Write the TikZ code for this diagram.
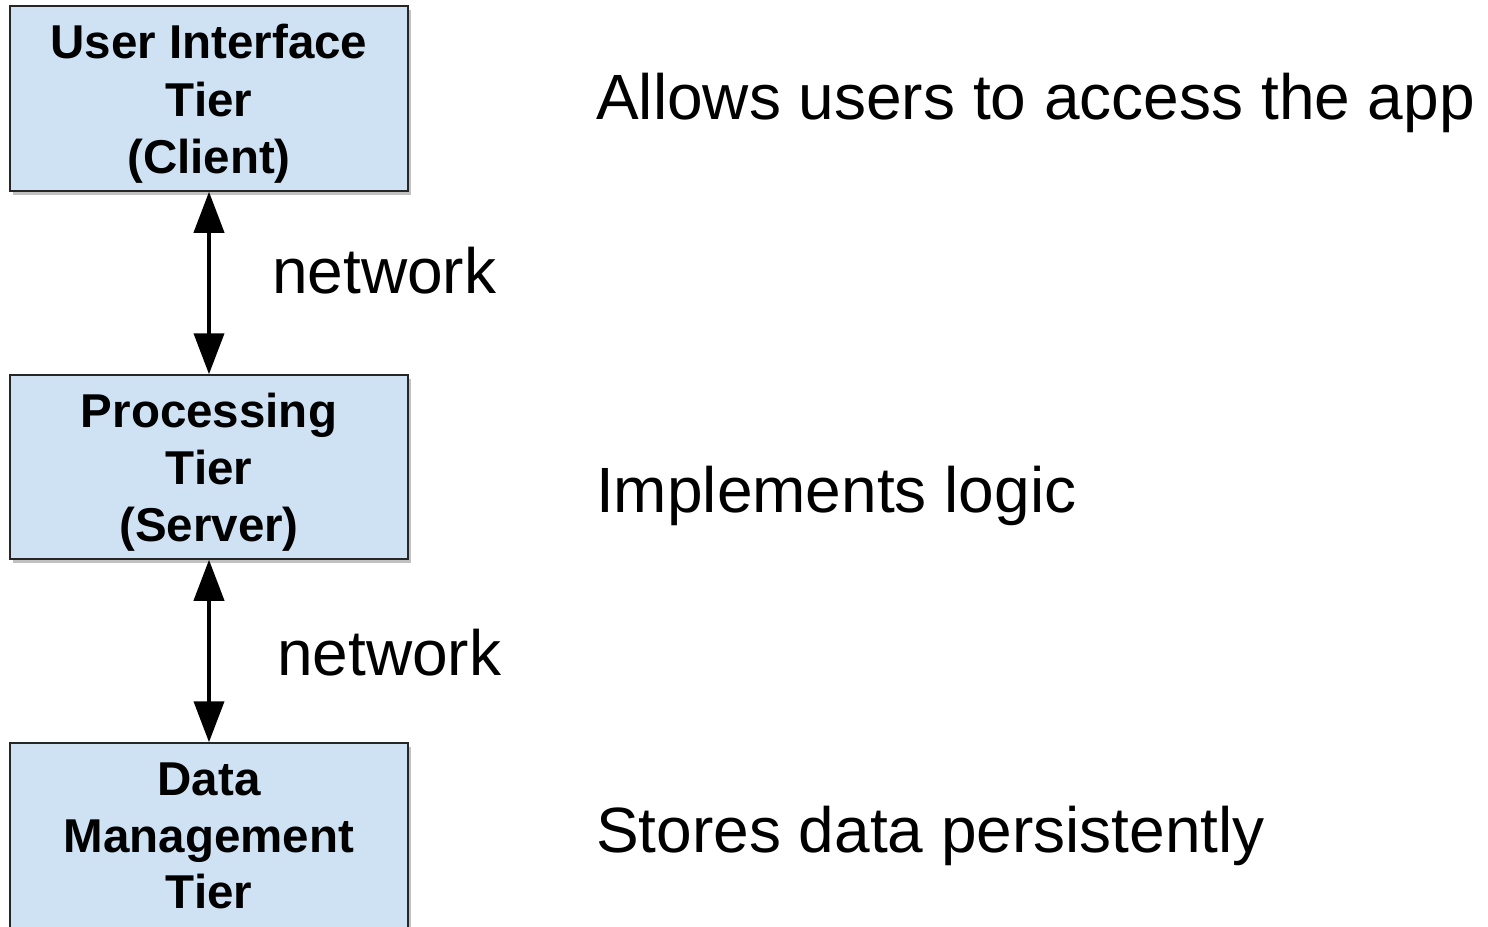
\documentclass[tikz,border=0pt]{standalone}
\usepackage{fontspec}
\setmainfont{Liberation Sans}
\usetikzlibrary{arrows.meta,shadows}
\definecolor{tierfill}{HTML}{CFE2F3}
\tikzset{
  tierbox/.style={draw=black!85, line width=1.5pt, fill=tierfill, rectangle,
    minimum width=398pt, inner sep=0pt,
    drop shadow={shadow xshift=2.5pt, shadow yshift=-3.5pt, opacity=0.35, fill=black!70}},
  boxtext/.style={anchor=base, inner sep=0pt, font=\bfseries\fontsize{47.5}{57}\selectfont},
  sidetext/.style={anchor=base west, inner sep=0pt, font=\fontsize{64}{72}\selectfont},
  link/.style={line width=4pt, {Triangle[width=30pt,length=41pt]}-{Triangle[width=30pt,length=41pt]}}
}
\begin{document}
\begin{tikzpicture}[x=1pt,y=-1pt]
\useasboundingbox (0,0) rectangle (1488,926);
\clip (0,0) rectangle (1488,926);
% boxes
\node[tierbox, minimum height=185pt] (ui) at (209,98.5) {};
\node[tierbox, minimum height=184pt] (proc) at (209,467) {};
\node[tierbox, minimum height=240pt] (data) at (209,863) {};
% box labels
\node[boxtext] (ui1) at (209,58) {User Interface};
\node[boxtext] (ui2) at (209,116) {Tier};
\node[boxtext] (ui3) at (209,173) {(Client)};
\node[boxtext] (pr1) at (209,427) {Processing};
\node[boxtext] (pr2) at (209,484) {Tier};
\node[boxtext] (pr3) at (209,541) {(Server)};
\node[boxtext] (da1) at (209,795) {Data};
\node[boxtext] (da2) at (209,852) {Management};
\node[boxtext] (da3) at (209,908) {Tier};
% connectors
\draw[link] (ui.south) -- (proc.north);
\draw[link] (proc.south) -- (data.north);
\node[sidetext] (net1) at (272,293) {network};
\node[sidetext] (net2) at (277,675) {network};
% descriptions
\node[sidetext] (d1) at (596,119) {Allows users to access the app};
\node[sidetext] (d2) at (596,512) {Implements logic};
\node[sidetext] (d3) at (596,852) {Stores data persistently};
\end{tikzpicture}
\end{document}
